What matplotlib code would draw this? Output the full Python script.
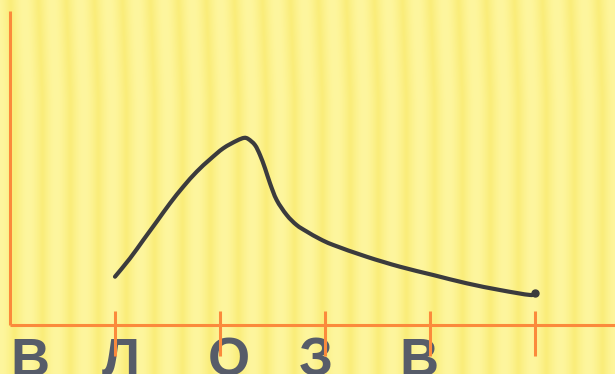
import matplotlib
matplotlib.use("Agg")
import matplotlib.pyplot as plt
from matplotlib.path import Path
from matplotlib.patches import PathPatch
import numpy as np

# Data (x in tick units, y in the same units above the axis)
curve_x = [1.0, 1.143, 1.27, 1.397, 1.524, 1.65, 1.778, 1.905, 2.031, 2.159,
           2.229, 2.27, 2.333, 2.381, 2.429, 2.476, 2.54, 2.635, 2.73, 2.826,
           2.95, 3.079, 3.397, 3.714, 4.031, 4.35, 4.667, 4.952, 4.998]
curve_y = [0.46, 0.635, 0.81, 0.984, 1.159, 1.317, 1.46, 1.578, 1.683, 1.755,
           1.782, 1.771, 1.714, 1.619, 1.492, 1.35, 1.19, 1.048, 0.952, 0.89,
           0.82, 0.762, 0.65, 0.555, 0.476, 0.397, 0.333, 0.286, 0.305]
tick_pos = [1, 2, 3, 4, 5]
letters = ["В", "Л", "О", "З", "В"]
letter_x = [0.19, 1.057, 2.086, 2.914, 3.895]

orange = "#fb8a3c"
dark = "#3b3b3d"
letter_col = "#575c69"

fig = plt.figure(figsize=(6.15, 3.74), dpi=100)
ax = fig.add_axes([0, 0, 1, 1])
x0, x1 = -10 / 105, 605 / 105
y0, y1 = -49 / 105, 325 / 105
ax.set_xlim(x0, x1)
ax.set_ylim(y0, y1)
ax.axis("off")

# striped yellow background
px = np.arange(615)
yy = np.arange(374)[:, None]
phase = (px[None, :] + 0.04 * np.clip(100 - yy, 0, None)) / 28.0 * 2 * np.pi
t = (0.5 + 0.5 * np.cos(phase)) ** 0.6
light = np.array([254, 246, 158]) / 255
darkc = np.array([250, 237, 122]) / 255
img = light[None, None, :] * t[..., None] + darkc[None, None, :] * (1 - t[..., None])
ax.imshow(img, extent=[x0, x1, y0, y1], aspect="auto", zorder=0)

# axes lines
ax.plot([0, 0], [0, 314 / 105], color=orange, lw=2.2, zorder=2, solid_capstyle="butt")
ax.plot([0, x1], [0, 0], color=orange, lw=2.2, zorder=2, solid_capstyle="butt")
ax.vlines(tick_pos, -30.5 / 105, 14 / 105, color=orange, lw=2.2, zorder=2)

# curve: smooth bezier through the read points (catmull-rom)
pts = np.column_stack([curve_x, curve_y])
verts = [pts[0]]
codes = [Path.MOVETO]
n = len(pts)
for i in range(n - 1):
    p0 = pts[max(i - 1, 0)]
    p1 = pts[i]
    p2 = pts[i + 1]
    p3 = pts[min(i + 2, n - 1)]
    verts += [p1 + (p2 - p0) / 6, p2 - (p3 - p1) / 6, p2]
    codes += [Path.CURVE4] * 3
ax.add_patch(PathPatch(Path(verts, codes), fill=False, edgecolor=dark, lw=3.0,
                       capstyle="round", joinstyle="round", zorder=3))
ax.plot(curve_x[-1:], curve_y[-1:], "o", color=dark, ms=5, zorder=3)

# letters
for lx, s in zip(letter_x, letters):
    ax.text(lx, -51 / 105, s, fontsize=39, fontweight="bold", color=letter_col,
            family=["Liberation Sans", "DejaVu Sans"], ha="center", va="baseline", zorder=1)

fig.savefig("out.png", dpi=100)
